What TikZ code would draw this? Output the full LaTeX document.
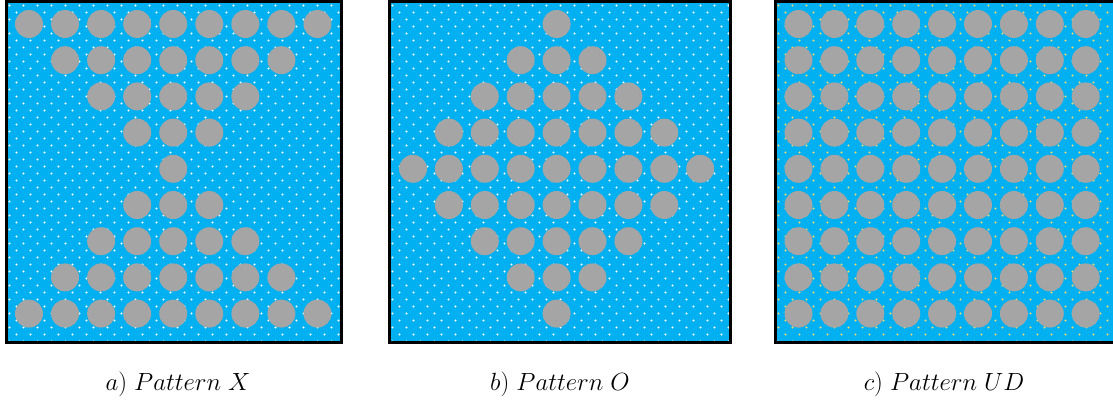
\documentclass[tikz,border=0pt]{standalone}
\definecolor{panelblue}{HTML}{00B0F0}
\definecolor{holegrey}{HTML}{A5A5A5}
\definecolor{dotyellow}{HTML}{F4DA70}
\tikzset{
  panelframe/.style={draw=black,line width=3pt},
  hole/.style={fill=holegrey},
  caption/.style={anchor=base,font=\fontsize{23.5}{27}\selectfont}
}
\newcommand\dotfield[5]{% x0 y0 x1 y1 colour
  \begin{scope}
    \clip (#1,#2) rectangle (#3,#4);
    \foreach \j in {0,...,50}{
      \foreach \i in {0,...,25}{
        \fill[#5] ({#1+3+14*\i+7*mod(\j,2)},{#2+4+7*\j}) circle (1.1);
      }
    }
  \end{scope}}
\begin{document}
\begin{tikzpicture}[x=1pt,y=-1pt]
\useasboundingbox (0,0) rectangle (1113,410);
\clip (0,0) rectangle (1113,410);
\fill[white] (0,0) rectangle (1113,410);
% ---------- panel a : Pattern X
\fill[panelblue] (6.5,1.5) rectangle (341.5,342.5);
\dotfield{6.5}{1.5}{341.5}{342.5}{white}
\foreach \j in {0,...,8}{
  \pgfmathtruncatemacro\k{abs(4-\j)}
  \pgfmathtruncatemacro\lo{4-\k}
  \pgfmathtruncatemacro\hi{4+\k}
  \foreach \i in {\lo,...,\hi}{
    \fill[hole] ({29+36.06*\i},{24+36.2*\j}) circle (14);
  }
}
\draw[panelframe] (6.5,1.5) rectangle (341.5,342.5);
% ---------- panel b : Pattern O
\fill[panelblue] (389.5,1.5) rectangle (730.5,342.5);
\dotfield{389.5}{1.5}{730.5}{342.5}{white}
\foreach \j in {0,...,8}{
  \pgfmathtruncatemacro\k{4-abs(4-\j)}
  \pgfmathtruncatemacro\lo{4-\k}
  \pgfmathtruncatemacro\hi{4+\k}
  \foreach \i in {\lo,...,\hi}{
    \fill[hole] ({413+35.9*\i},{24+36.2*\j}) circle (14);
  }
}
\draw[panelframe] (389.5,1.5) rectangle (730.5,342.5);
% ---------- panel c : Pattern UD
\fill[panelblue] (775.5,1.5) rectangle (1116,342.5);
\dotfield{775.5}{1.5}{1116}{342.5}{dotyellow}
\foreach \j in {0,...,8}{
  \foreach \i in {0,...,8}{
    \fill[hole] ({798.5+35.9*\i},{24+36.2*\j}) circle (14);
  }
}
\draw[panelframe] (775.5,1.5) rectangle (1116,342.5);
% ---------- captions
\node[caption] (labA) at (178,390) {$a)\ Pattern\ X$};
\node[caption] (labB) at (560,390) {$b)\ Pattern\ O$};
\node[caption] (labC) at (944,390) {$c)\ Pattern\ UD$};
\end{tikzpicture}
\end{document}
